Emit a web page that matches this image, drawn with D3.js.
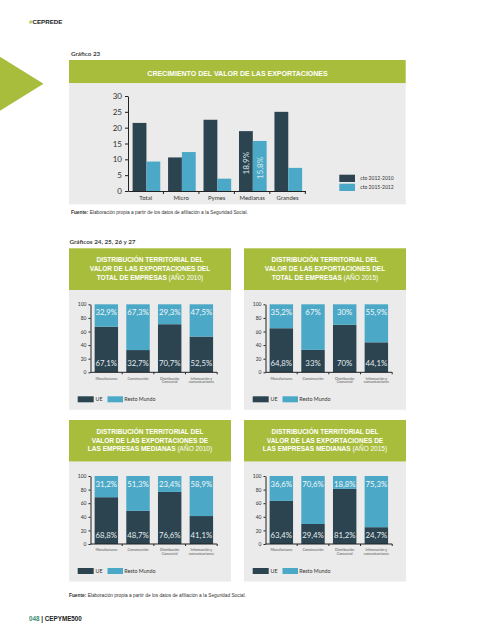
<!DOCTYPE html>
<html><head><meta charset="utf-8">
<script src="https://cdn.jsdelivr.net/npm/d3@7"></script>
<style>body{margin:0;background:#fff} svg{display:block}</style>
</head><body>
<script>
// ---------- DATA ----------
const growthCategories = ["Total","Micro","Pymes","Medianas","Grandes"];
const growth2012vs2010 = [21.5,10.6,22.5,18.9,25.0];
const growth2015vs2012 = [9.3,12.3,3.9,15.8,7.3];
const growthSeries = ["cto 2012-2010","cto 2015-2012"];
const growthTicks = [0,5,10,15,20,25,30];
const growthLabelledCategory = "Medianas";

const sectors = ["Manufacturas","Construcción","Distribución Comercial","Información y comunicaciones"];
const sectorLabelLines = [["Manufacturas"],["Construcción"],["Distribución","Comercial"],["Información y","comunicaciones"]];
const shareSeries = ["UE","Resto Mundo"];
const shareTicks = [0,20,40,60,80,100];
const ueTotal2010 = [67.1,32.7,70.7,52.5];
const restoTotal2010 = [32.9,67.3,29.3,47.5];
const ueTotal2015 = [64.8,33,70,44.1];
const restoTotal2015 = [35.2,67,30,55.9];
const ueMedianas2010 = [68.8,48.7,76.6,41.1];
const restoMedianas2010 = [31.2,51.3,23.4,58.9];
const ueMedianas2015 = [63.4,29.4,81.2,24.7];
const restoMedianas2015 = [36.6,70.6,18.8,75.3];

const titleTotal = ["DISTRIBUCIÓN TERRITORIAL DEL","VALOR DE LAS EXPORTACIONES DEL","TOTAL DE EMPRESAS"];
const titleMedianas = ["DISTRIBUCIÓN TERRITORIAL DEL","VALOR DE LAS EXPORTACIONES DE","LAS EMPRESAS MEDIANAS"];

// ---------- STYLE ----------
const GREEN = "#a8bd3c", GRAY = "#ebebeb", DARK = "#2c4350", LIGHT = "#4ba8c6", TXT = "#333";
const SANS = "Lato, 'Liberation Sans', sans-serif";
const BOLD = "'Liberation Sans', Arial, sans-serif";
const NARROW = "'Liberation Sans Narrow', 'Liberation Sans', sans-serif";
const fmtPct = v => (Number.isInteger(v) ? String(v) : v.toFixed(1).replace(".", ",")) + "%";

const svg = d3.select("body").append("svg").attr("width",488).attr("height",640);

// header
svg.append("polygon").attr("points","0,56.7 43.5,83.7 0,110.7").attr("fill",GREEN);
const hdr = svg.append("text").attr("x",29).attr("y",24).attr("font-family",NARROW).attr("font-weight","bold").attr("font-size",6.2);
hdr.append("tspan").attr("fill",GREEN).text("#");
hdr.append("tspan").attr("fill","#222").text("CEPREDE");

svg.append("text").attr("x",71).attr("y",56).attr("font-family",SANS).attr("font-weight","bold")
  .attr("font-size",6.3).attr("fill","#444").text("Gráfico 23");

// ---------- CHART 1 ----------
svg.append("rect").attr("x",69).attr("y",60).attr("width",336.7).attr("height",23.3).attr("fill",GREEN);
svg.append("rect").attr("x",69).attr("y",83.3).attr("width",336.7).attr("height",121).attr("fill",GRAY);
svg.append("text").attr("x",237.5).attr("y",73.5).attr("text-anchor","middle").attr("dominant-baseline","central")
  .attr("font-family",BOLD).attr("font-weight","bold").attr("font-size",7).attr("fill","#fff")
  .text("CRECIMIENTO DEL VALOR DE LAS EXPORTACIONES");

const x0 = d3.scaleBand().domain(growthCategories).range([128,305.3]);
const x1 = d3.scaleBand().domain(growthSeries).range([x0.bandwidth()*0.13, x0.bandwidth()*0.91]);
const y1 = d3.scaleLinear().domain([0,30]).range([191,96]);
const growthRows = growthCategories.map((c,i)=>({cat:c, vals:[growth2012vs2010[i], growth2015vs2012[i]]}));
const gColor = d3.scaleOrdinal().domain(growthSeries).range([DARK, LIGHT]);

const g1 = svg.append("g");
const grp = g1.selectAll("g.grp").data(growthRows).join("g").attr("transform",d=>`translate(${x0(d.cat)},0)`);
grp.selectAll("rect").data(d=>d.vals.map((v,j)=>({s:growthSeries[j], v, cat:d.cat}))).join("rect")
  .attr("x",d=>x1(d.s)).attr("width",x1.bandwidth())
  .attr("y",d=>y1(d.v)).attr("height",d=>y1(0)-y1(d.v)).attr("fill",d=>gColor(d.s));
grp.selectAll("text.val").data(d=>d.cat===growthLabelledCategory ? d.vals.map((v,j)=>({s:growthSeries[j], v})) : []).join("text")
  .attr("class","val")
  .attr("transform",d=>`translate(${x1(d.s)+x1.bandwidth()/2},${(y1(0)+y1(d.v))/2 + 2}) rotate(-90)`)
  .attr("text-anchor","middle").attr("dominant-baseline","central")
  .attr("font-family",SANS).attr("font-size",8.2).attr("fill","#dde8ec").text(d=>fmtPct(d.v));

const yAx1 = g1.append("g").attr("transform","translate(128,0)")
  .call(d3.axisLeft(y1).tickValues(growthTicks).tickSize(3).tickSizeOuter(0).tickPadding(3));
yAx1.select(".domain").attr("stroke","#222");
yAx1.selectAll(".tick line").attr("stroke","#222");
yAx1.selectAll("text").attr("font-family",SANS).attr("font-size",8).attr("fill",TXT);

const xAx1 = g1.append("g").attr("transform","translate(0,191)")
  .call(d3.axisBottom(x0).tickSize(0).tickPadding(5));
xAx1.select(".domain").attr("stroke","#222");
xAx1.selectAll("text").attr("font-family",SANS).attr("font-size",6).attr("fill",TXT);
g1.selectAll("line.bt").data(growthCategories).join("line").attr("class","bt")
  .attr("x1",d=>x0(d)+x0.bandwidth()).attr("x2",d=>x0(d)+x0.bandwidth())
  .attr("y1",191).attr("y2",194).attr("stroke","#222");

const leg1 = g1.selectAll("g.leg").data(growthSeries).join("g").attr("class","leg")
  .attr("transform",(d,i)=>`translate(339.3,${174.7+i*9})`);
leg1.append("rect").attr("width",15.7).attr("height",7.3).attr("fill",d=>gColor(d));
leg1.append("text").attr("x",21).attr("y",3.8).attr("dominant-baseline","central")
  .attr("font-family",SANS).attr("font-size",5).attr("fill",TXT).text(d=>d);

function fuente(x,y){
  const t = svg.append("text").attr("x",x).attr("y",y).attr("font-family",NARROW).attr("font-size",4.8).attr("fill",TXT);
  t.append("tspan").attr("font-weight","bold").text("Fuente:");
  t.append("tspan").text(" Elaboración propia a partir de los datos de afiliación a la Seguridad Social.");
}
fuente(71,214);

svg.append("text").attr("x",69.5).attr("y",244).attr("font-family",SANS).attr("font-weight","bold")
  .attr("font-size",6.3).attr("fill","#444").text("Gráficos 24, 25, 26 y 27");

// ---------- SMALL PANELS ----------
function drawPanel(px, py, lines, suffix, ue, resto){
  const g = svg.append("g");
  g.append("rect").attr("x",px).attr("y",py).attr("width",162).attr("height",41.7).attr("fill",GREEN);
  g.append("rect").attr("x",px).attr("y",py+41.7).attr("width",162).attr("height",119.8).attr("fill",GRAY);
  lines.forEach((ln,i)=>{
    const t = g.append("text").attr("x",px+81).attr("y",py+10.6+i*8.9).attr("text-anchor","middle")
      .attr("dominant-baseline","central").attr("font-family",BOLD).attr("font-size",6.5).attr("fill","#fff");
    t.append("tspan").attr("font-weight","bold").text(ln);
    if(i===lines.length-1) t.append("tspan").attr("font-weight","normal").text(" " + suffix);
  });
  const ax = px + 21.5;
  const xs = d3.scaleBand().domain(sectors).range([ax, ax+126.7]).paddingInner(0.26).paddingOuter(0.13);
  const ys = d3.scaleLinear().domain([0,100]).range([py+124, py+56]);
  const rows = sectors.map((s,i)=>({sector:s, "UE":ue[i], "Resto Mundo":resto[i]}));
  const stacked = d3.stack().keys(shareSeries)(rows);
  const col = d3.scaleOrdinal().domain(shareSeries).range([DARK, LIGHT]);
  g.selectAll("g.layer").data(stacked).join("g").attr("fill",d=>col(d.key))
    .selectAll("rect").data(d=>d).join("rect")
    .attr("x",d=>xs(d.data.sector)).attr("width",xs.bandwidth())
    .attr("y",d=>ys(Math.min(d[1],100))).attr("height",d=>ys(d[0])-ys(Math.min(d[1],100)));
  // labels
  g.selectAll("text.ue").data(rows).join("text").attr("class","ue")
    .attr("x",d=>xs(d.sector)+xs.bandwidth()/2).attr("y",ys(0)-9)
    .attr("text-anchor","middle").attr("dominant-baseline","central")
    .attr("font-family",SANS).attr("font-size",7.8).attr("fill","#e4ecef").text(d=>fmtPct(d["UE"]));
  g.selectAll("text.rm").data(rows).join("text").attr("class","rm")
    .attr("x",d=>xs(d.sector)+xs.bandwidth()/2).attr("y",ys(100)+8)
    .attr("text-anchor","middle").attr("dominant-baseline","central")
    .attr("font-family",SANS).attr("font-size",7.8).attr("fill","#f2f8fa").text(d=>fmtPct(d["Resto Mundo"]));
  // axes
  const ya = g.append("g").attr("transform",`translate(${ax},0)`)
    .call(d3.axisLeft(ys).tickValues(shareTicks).tickSize(2).tickSizeOuter(0).tickPadding(2));
  ya.select(".domain").attr("stroke","#222");
  ya.selectAll(".tick line").attr("stroke","#222");
  ya.selectAll("text").attr("font-family",SANS).attr("font-size",5).attr("fill",TXT);
  g.append("line").attr("x1",ax).attr("x2",ax+126.7).attr("y1",ys(0)).attr("y2",ys(0)).attr("stroke","#222");
  g.selectAll("line.bt").data(sectors).join("line").attr("class","bt")
    .attr("x1",d=>xs(d)+xs.bandwidth()+xs.step()*0.13).attr("x2",d=>xs(d)+xs.bandwidth()+xs.step()*0.13)
    .attr("y1",ys(0)).attr("y2",ys(0)+2).attr("stroke","#222");
  g.selectAll("text.cat").data(sectors).join("text").attr("class","cat")
    .attr("x",d=>xs(d)+xs.bandwidth()/2).attr("y",ys(0)+5.2)
    .attr("text-anchor","middle").attr("dominant-baseline","central")
    .attr("font-family",SANS).attr("font-size",3.6).attr("fill","#555")
    .each(function(d,i){
      sectorLabelLines[i].forEach((l,k)=>{
        d3.select(this).append("tspan").attr("x",xs(d)+xs.bandwidth()/2).attr("dy",k===0?0:3.6).text(l);
      });
    });
  // legend
  const lg = g.selectAll("g.leg").data(shareSeries).join("g").attr("class","leg")
    .attr("transform",(d,i)=>`translate(${px+8.7+i*29.8},${py+148})`);
  lg.append("rect").attr("width",d=>d==="UE"?16:15.5).attr("height",6).attr("fill",d=>col(d));
  lg.append("text").attr("x",d=>d==="UE"?17.8:16.8).attr("y",3.2).attr("dominant-baseline","central")
    .attr("font-family",SANS).attr("font-size",5.3).attr("fill",TXT).text(d=>d);
}

drawPanel(69, 248.3, titleTotal, "(AÑO 2010)", ueTotal2010, restoTotal2010);
drawPanel(244, 248.3, titleTotal, "(AÑO 2015)", ueTotal2015, restoTotal2015);
drawPanel(69, 420, titleMedianas, "(AÑO 2010)", ueMedianas2010, restoMedianas2010);
drawPanel(244, 420, titleMedianas, "(AÑO 2015)", ueMedianas2015, restoMedianas2015);

fuente(69, 597);

// footer
const ft = svg.append("text").attr("x",29).attr("y",621).attr("font-family",NARROW).attr("font-weight","bold").attr("font-size",6.3);
ft.append("tspan").attr("fill","#3d8c74").text("048");
ft.append("tspan").attr("fill","#222").text(" | CEPYME500");
</script>
</body></html>
